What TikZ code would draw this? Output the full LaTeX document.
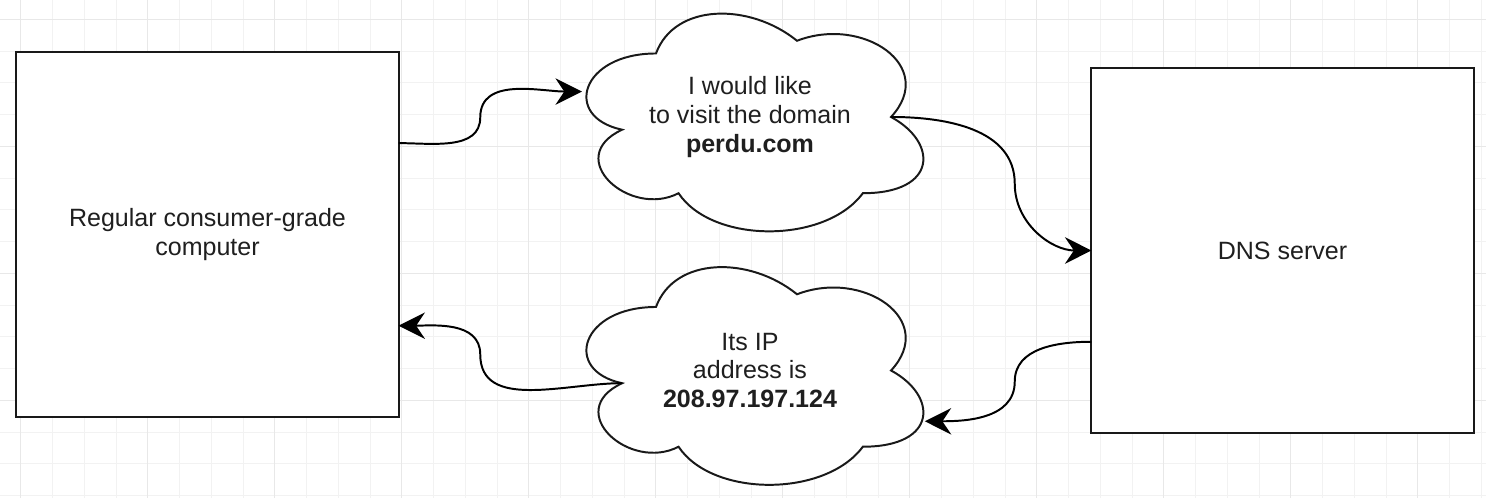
\documentclass[tikz,border=0pt]{standalone}
\usepackage{fontspec}
\setmainfont{Liberation Sans}
\usetikzlibrary{arrows.meta,calc,backgrounds}

\begin{document}
\begin{tikzpicture}[
    x=0.025cm,
    y=-0.025cm,
    every node/.style={font=\fontsize{17.8}{20.3}\selectfont, text=black!88},
    gridline/.style={draw=black!5, line width=0.6pt},
    gridmajor/.style={draw=black!9, line width=0.6pt},
    hostbox/.style={draw=black!90, fill=white, line width=1.4pt, minimum width=9.55cm,
      minimum height=9.125cm, inner sep=0pt, outer sep=0pt, align=center},
    cloudbox/.style={minimum width=9.4cm, minimum height=6.35cm, inner sep=0pt,
      outer sep=0pt, align=center},
    pics/drawiocloud/.style={code={
      \draw[draw=black!90, fill=white, line width=1.4pt]
        (0.25,0.25) .. controls (0.05,0.25) and (0,0.5) .. (0.16,0.55)
        .. controls (0,0.66) and (0.18,0.9) .. (0.31,0.8)
        .. controls (0.4,1) and (0.7,1) .. (0.8,0.8)
        .. controls (1,0.8) and (1,0.6) .. (0.875,0.5)
        .. controls (1,0.3) and (0.8,0.1) .. (0.625,0.2)
        .. controls (0.5,0.05) and (0.3,0.05) .. (0.25,0.25) -- cycle;
    }},
    flow/.style={-{Stealth[length=0.66cm, width=0.66cm, inset=0.22cm]}, draw=black,
      line width=1.4pt}
  ]
    \useasboundingbox (0,0) rectangle (1486,498);

    % background grid
    \begin{scope}[on background layer]
      \fill[white] (0,0) rectangle (1486,498);
      \foreach \gx in {0,...,46}
        \draw[gridline] ({20.7+31.75*\gx},0) -- ({20.7+31.75*\gx},498);
      \foreach \gy in {0,...,15}
        \draw[gridline] (0,{19.3+31.75*\gy}) -- (1486,{19.3+31.75*\gy});
      \foreach \gx in {0,4,...,44}
        \draw[gridmajor] ({20.7+31.75*\gx},0) -- ({20.7+31.75*\gx},498);
      \foreach \gy in {0,4,...,12}
        \draw[gridmajor] (0,{19.3+31.75*\gy}) -- (1486,{19.3+31.75*\gy});
    \end{scope}

    \node[hostbox] (pc) at (207.5,234.4) {Regular consumer-grade\\computer};
    \node[hostbox] (dns) at (1282.5,250.5) {DNS server};

    \node[cloudbox] (ask) at (750,117) {I would like\\to visit the domain\\\textbf{perdu.com}};
    \node[cloudbox] (reply) at (750,370.5) {Its IP\\address is\\\textbf{208.97.197.124}};

    \begin{scope}[on background layer]
      \pic[x=9.4cm, y=-6.35cm] at (ask.north west) {drawiocloud};
      \pic[x=9.4cm, y=-6.35cm] at (reply.north west) {drawiocloud};
    \end{scope}

    % end points on the boxes and clouds
    \coordinate (q1s) at ($(pc.north east)!0.25!(pc.south east)$);
    \coordinate (q1e) at ($(ask.north west)+(0.053*376,0.40*254)$);
    \coordinate (q2s) at ($(ask.north west)+(0.875*376,0.5*254)$);
    \coordinate (q2e) at (dns.west);
    \coordinate (q3s) at ($(dns.north west)!0.75!(dns.south west)$);
    \coordinate (q3e) at ($(reply.north west)+(0.965*376,0.70*254)$);
    \coordinate (q4s) at ($(reply.north west)+(0.16*376,0.55*254)$);
    \coordinate (q4e) at ($(pc.north east)!0.75!(pc.south east)$);

    % bends halfway between box and cloud
    \path let \p1=(pc.east), \p2=(ask.west), \p3=(q1s), \p4=(q1e) in
      coordinate (m1) at ({(\x1+\x2)/2},{(\y3+\y4)/2});
    \path let \p1=(ask.east), \p2=(dns.west), \p3=(q2s), \p4=(q2e) in
      coordinate (m2) at ({(\x1+\x2)/2},{(\y3+\y4)/2});
    \path let \p1=(reply.east), \p2=(dns.west), \p3=(q3s), \p4=(q3e) in
      coordinate (m3) at ({(\x1+\x2)/2},{(\y3+\y4)/2});
    \path let \p1=(pc.east), \p2=(reply.west), \p3=(q4s), \p4=(q4e) in
      coordinate (m4) at ({(\x1+\x2)/2},{(\y3+\y4)/2});

    \draw[flow] (q1s) to[out=0,in=-90] (m1) to[out=90,in=180] (q1e);
    \draw[flow] (q2s) to[out=0,in=90] (m2) to[out=-90,in=180] (q2e);
    \draw[flow] (q3s) to[out=180,in=90] (m3) to[out=-90,in=0] (q3e);
    \draw[flow] (q4s) to[out=180,in=-90] (m4) to[out=90,in=0] (q4e);
  \end{tikzpicture}
\end{document}
